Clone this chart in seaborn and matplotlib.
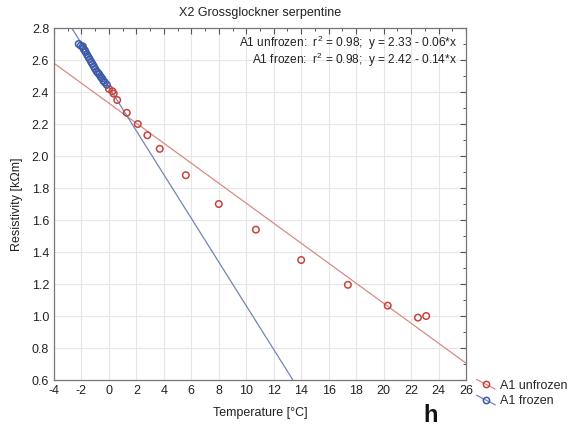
import numpy as np
import pandas as pd
import matplotlib
matplotlib.use("Agg")
import matplotlib.pyplot as plt
from matplotlib.lines import Line2D
from matplotlib.legend_handler import HandlerBase
from matplotlib.ticker import MultipleLocator
import seaborn as sns

# ---- data ----
unfrozen_temp = [0.0, 0.25, 0.35, 0.6, 1.3, 2.1, 2.8, 3.7, 5.6, 8.0, 10.7, 14.0, 17.4, 20.3, 22.5, 23.1]
unfrozen_res = [2.42, 2.405, 2.39, 2.35, 2.27, 2.20, 2.13, 2.045, 1.88, 1.70, 1.54, 1.35, 1.195, 1.065, 0.99, 1.00]

frozen_temp = [-2.2, -2.05, -1.9, -1.85, -1.75, -1.7, -1.6, -1.5, -1.4, -1.3, -1.2, -1.1,
               -1.0, -0.9, -0.8, -0.7, -0.6, -0.5, -0.4, -0.3, -0.15]
frozen_res = [2.70, 2.69, 2.685, 2.67, 2.66, 2.65, 2.635, 2.62, 2.605, 2.59, 2.575, 2.56,
              2.545, 2.53, 2.52, 2.51, 2.495, 2.485, 2.47, 2.46, 2.445]

fit_unfrozen = (2.33, -0.0625)   # intercept, slope
fit_frozen = (2.43, -0.1366)

series_labels = ["A1 unfrozen", "A1 frozen"]
annotations = ["A1 unfrozen:  r$^2$ = 0.98;  y = 2.33 - 0.06*x",
               "A1 frozen:  r$^2$ = 0.98;  y = 2.42 - 0.14*x"]

x_ticks = list(range(-4, 27, 2))
y_ticks = [0.6, 0.8, 1.0, 1.2, 1.4, 1.6, 1.8, 2.0, 2.2, 2.4, 2.6, 2.8]

# ---- style ----
sns.set_theme(style="white")
plt.rcParams['font.family'] = ['Liberation Sans', 'DejaVu Sans']
plt.rcParams['mathtext.fontset'] = 'custom'
plt.rcParams['mathtext.rm'] = 'Liberation Sans'
plt.rcParams['axes.unicode_minus'] = False

red_pt = "#c8423c"
blue_pt = "#3d5aa8"
red_ln = "#d98a86"
blue_ln = "#7583b8"

fig = plt.figure(figsize=(5.72, 4.28), dpi=100)
ax = fig.add_axes([0.0944, 0.1121, 0.7203, 0.8224])

xline = np.array([-4.0, 26.0])
df_lines = pd.DataFrame({
    "x": np.concatenate([xline, xline]),
    "y": np.concatenate([fit_unfrozen[0] + fit_unfrozen[1] * xline,
                         fit_frozen[0] + fit_frozen[1] * xline]),
    "s": [series_labels[0]] * 2 + [series_labels[1]] * 2,
})
sns.lineplot(data=df_lines, x="x", y="y", hue="s",
             palette={series_labels[0]: red_ln, series_labels[1]: blue_ln},
             linewidth=0.9, legend=False, ax=ax, zorder=2)

df_pts = pd.DataFrame({
    "x": unfrozen_temp + frozen_temp,
    "y": unfrozen_res + frozen_res,
    "s": [series_labels[0]] * len(unfrozen_temp) + [series_labels[1]] * len(frozen_temp),
})
for lab, col in zip(series_labels, [red_pt, blue_pt]):
    sub = df_pts[df_pts.s == lab]
    sns.scatterplot(data=sub, x="x", y="y", marker="o", s=22,
                    facecolor="none", edgecolor=col, linewidth=1.1,
                    ax=ax, legend=False, zorder=3)

ax.set_xlim(-4, 26)
ax.set_ylim(0.6, 2.8)
ax.set_xticks(x_ticks)
ax.set_yticks(y_ticks)
ax.set_yticklabels([f"{v:.1f}" for v in y_ticks])
ax.xaxis.set_minor_locator(MultipleLocator(1))
ax.yaxis.set_minor_locator(MultipleLocator(0.1))
ax.tick_params(which="both", direction="in", top=True, right=True,
               labelsize=9, colors="#555555", labelcolor="#222222")
ax.tick_params(which="major", length=4, width=0.8)
ax.tick_params(which="minor", length=2.5, width=0.7)
ax.grid(True, which="major", color="#e6e6e6", linewidth=0.8)
ax.set_axisbelow(True)
for sp in ax.spines.values():
    sp.set_color("#777777")
    sp.set_linewidth(0.9)

ax.set_xlabel("Temperature [°C]", fontsize=9, color="#222222", labelpad=7)
ax.set_ylabel("Resistivity [kΩm]", fontsize=9, color="#222222", labelpad=6)
ax.set_title("X2 Grossglockner serpentine", fontsize=9, color="#222222", pad=9)

ax.text(0.978, 0.958, annotations[0], transform=ax.transAxes, ha="right", va="center",
        fontsize=8.6, color="#222222")
ax.text(0.978, 0.910, annotations[1], transform=ax.transAxes, ha="right", va="center",
        fontsize=8.6, color="#222222")


class DiagHandler(HandlerBase):
    def create_artists(self, legend, orig_handle, xdescent, ydescent,
                       width, height, fontsize, trans):
        x0, x1 = -xdescent, -xdescent + width
        y0, y1 = -ydescent + height * 1.05, -ydescent - height * 0.05
        ln = Line2D([x0, x1], [y0, y1], color=orig_handle.get_color(), lw=0.9,
                    transform=trans)
        mk = Line2D([(x0 + x1) / 2], [(y0 + y1) / 2], linestyle="none", marker="o",
                    markersize=4.5, markerfacecolor="none",
                    markeredgecolor=orig_handle.get_markeredgecolor(),
                    markeredgewidth=1.1, transform=trans)
        return [ln, mk]


handles = [Line2D([0], [0], color=red_ln, marker="o", markeredgecolor=red_pt),
           Line2D([0], [0], color=blue_ln, marker="o", markeredgecolor=blue_pt)]
fig.legend(handles, series_labels, loc="upper left", bbox_to_anchor=(0.833, 0.113),
           frameon=False, fontsize=9, handlelength=1.5, handletextpad=0.4,
           labelspacing=0.3, borderaxespad=0, borderpad=0,
           handler_map={Line2D: DiagHandler()})

fig.text(0.752, 0.003, "h", fontsize=17, fontweight="bold", color="#111111",
         ha="center", va="bottom")

fig.savefig("out.png", dpi=100)
